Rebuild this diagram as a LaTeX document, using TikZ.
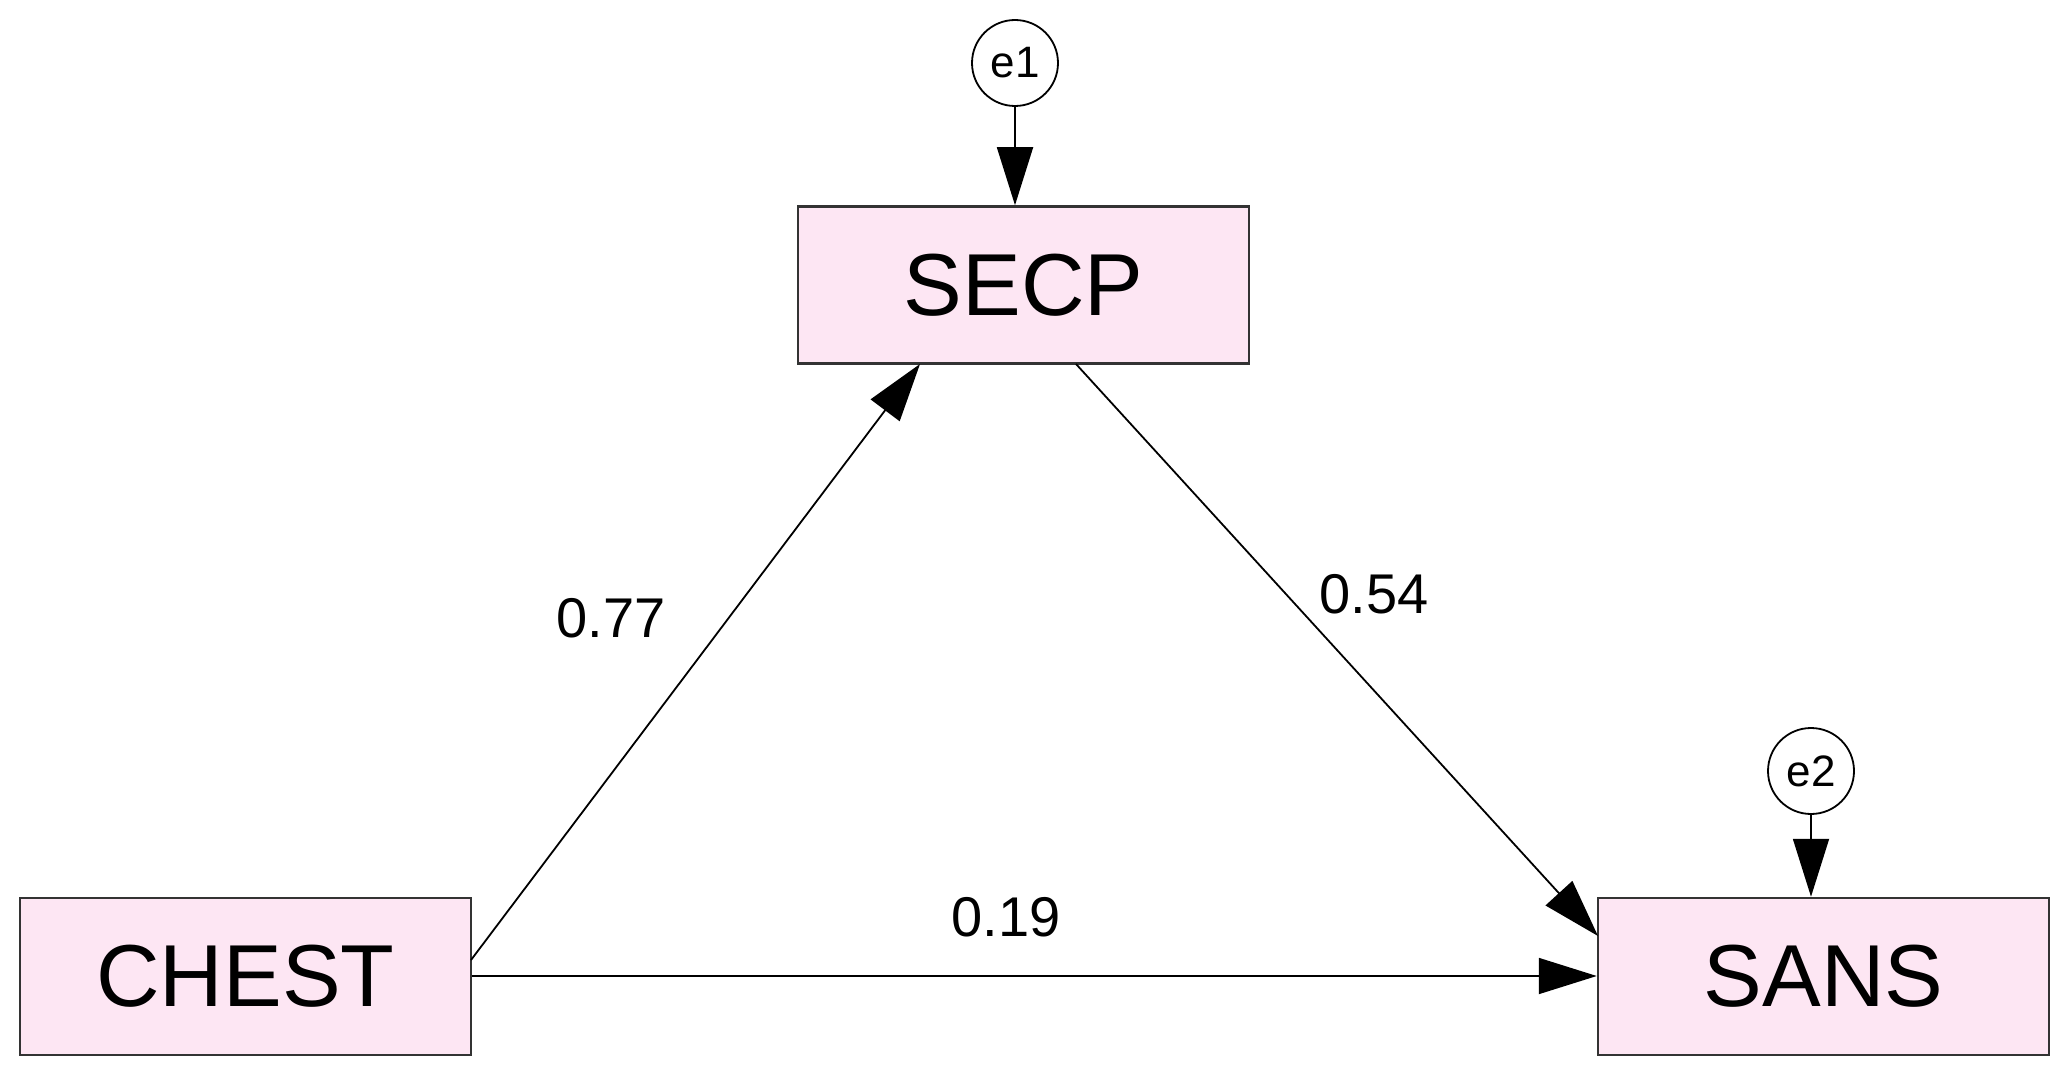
\documentclass[tikz,border=0pt]{standalone}
\usepackage{fontspec}
\setmainfont{Liberation Sans}
\usetikzlibrary{arrows.meta}
\begin{document}
\begin{tikzpicture}[x=1pt,y=-1pt,
 box/.style={draw=black!80,line width=2.5pt,fill=magenta!10,minimum width=451pt,minimum height=157pt,font=\fontsize{88}{98}\selectfont,inner sep=0pt},
 err/.style={draw=black,line width=1.8pt,fill=white,circle,minimum size=86pt,inner sep=0pt,font=\fontsize{44}{50}\selectfont},
 arr/.style={line width=1.8pt,-{Triangle[length=58pt,width=36pt]}},
 lab/.style={font=\fontsize{56}{64}\selectfont}]
\useasboundingbox (0,0) rectangle (2062,1070);
\node[box] (secp) at (1023.5,285) {SECP};
\node[box] (chest) at (245.5,976.5) {CHEST};
\node[box] (sans) at (1823.5,976.5) {SANS};
\node[err] (e1) at (1015,63) {e1};
\node[err] (e2) at (1811,771) {e2};
\coordinate (c1) at (471,960);
\coordinate (s1) at (920,364);
\coordinate (s2) at (1076,364);
\coordinate (n1) at (1598,936);
\draw[arr] (c1) -- (s1);
\draw[arr] (s2) -- (n1);
\draw[arr] (chest.east|-0,976) -- (sans.west|-0,976);
\draw[arr] (e1.south) -- (secp.north-|e1.south);
\draw[arr] (e2.south) -- (sans.north-|e2.south);
\node[lab] (l1) at (611,618) {0.77};
\node[lab] (l2) at (1374,594) {0.54};
\node[lab] (l3) at (1006,917) {0.19};
\end{tikzpicture}
\end{document}
